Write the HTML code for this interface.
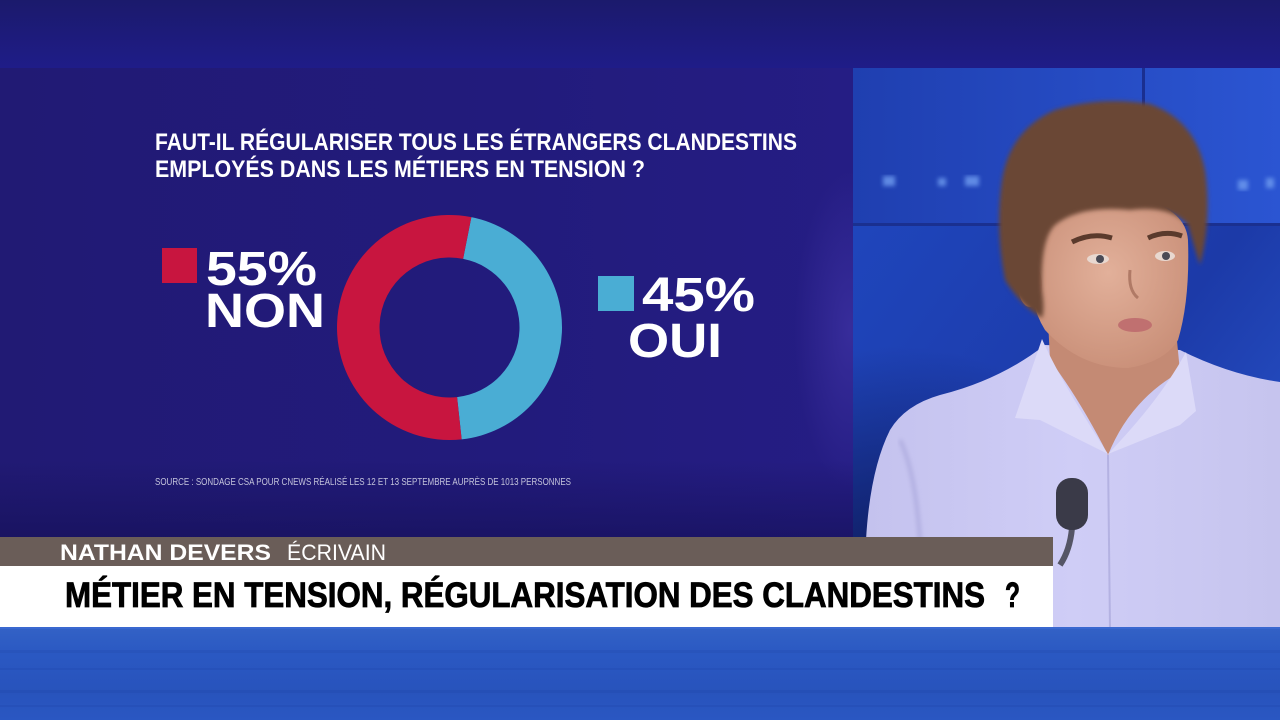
<!DOCTYPE html>
<html><head><meta charset="utf-8"><style>
html,body{margin:0;padding:0;background:#1e1b7a;}
svg{display:block;}
text{font-family:"Liberation Sans",sans-serif;}
</style></head><body>
<svg width="1280" height="720" viewBox="0 0 1280 720" xmlns="http://www.w3.org/2000/svg">
<defs>
<linearGradient id="topband" x1="0" y1="0" x2="0" y2="1">
<stop offset="0" stop-color="#1b1a6c"/><stop offset="1" stop-color="#1f1c88"/>
</linearGradient>
<linearGradient id="panel" x1="0" y1="0" x2="1" y2="0">
<stop offset="0" stop-color="#211a74"/><stop offset="0.6" stop-color="#221b7c"/><stop offset="1" stop-color="#251d84"/>
</linearGradient>
<radialGradient id="glow" cx="0.5" cy="0.5" r="0.5">
<stop offset="0" stop-color="#3f33a4" stop-opacity="0.7"/><stop offset="1" stop-color="#3f33a4" stop-opacity="0"/>
</radialGradient>
<linearGradient id="panelbot" x1="0" y1="0" x2="0" y2="1">
<stop offset="0" stop-color="#140f55" stop-opacity="0"/><stop offset="1" stop-color="#140f55" stop-opacity="0.6"/>
</linearGradient>
<linearGradient id="bottom" x1="0" y1="0" x2="0" y2="1">
<stop offset="0" stop-color="#3362c6"/><stop offset="0.3" stop-color="#2a58c2"/><stop offset="0.7" stop-color="#2853bc"/><stop offset="1" stop-color="#2a57c2"/>
</linearGradient>
<linearGradient id="studioTop" x1="0" y1="0" x2="1" y2="0">
<stop offset="0" stop-color="#1f3fb0"/><stop offset="1" stop-color="#2b55d2"/>
</linearGradient>
<linearGradient id="studioLow" x1="0" y1="0" x2="1" y2="1">
<stop offset="0" stop-color="#2049c2"/><stop offset="0.6" stop-color="#1c3aa8"/><stop offset="1" stop-color="#2a58d0"/>
</linearGradient>
<radialGradient id="dark" cx="0.1" cy="0.9" r="0.6">
<stop offset="0" stop-color="#0d1a5a"/><stop offset="1" stop-color="#0d1a5a" stop-opacity="0"/>
</radialGradient>
<linearGradient id="shirt" x1="0" y1="0" x2="1" y2="0">
<stop offset="0" stop-color="#c4c2ee"/><stop offset="0.5" stop-color="#cfcdf6"/><stop offset="1" stop-color="#c6c4ee"/>
</linearGradient>
<radialGradient id="face" cx="0.5" cy="0.45" r="0.6">
<stop offset="0" stop-color="#e2b09a"/><stop offset="1" stop-color="#c98f78"/>
</radialGradient>
<clipPath id="panelclip"><rect x="0" y="68" width="853" height="469"/></clipPath>
<filter id="blur2"><feGaussianBlur stdDeviation="2"/></filter>
<filter id="blur4"><feGaussianBlur stdDeviation="4"/></filter>
</defs>

<rect x="0" y="0" width="1280" height="68" fill="url(#topband)"/>

<rect x="853" y="68" width="427" height="560" fill="url(#studioLow)"/>
<rect x="853" y="68" width="427" height="157" fill="url(#studioTop)"/>
<rect x="853" y="225" width="427" height="403" fill="url(#dark)"/>
<rect x="1142" y="68" width="3" height="157" fill="#1a2f90"/>
<rect x="853" y="223" width="427" height="3" fill="#1a3090"/>
<g fill="#6f9cf0" opacity="0.8" filter="url(#blur2)">
<rect x="883" y="176" width="12" height="10"/><rect x="938" y="178" width="8" height="8"/>
<rect x="965" y="176" width="14" height="10"/><rect x="1238" y="180" width="10" height="10"/>
<rect x="1266" y="178" width="8" height="10"/>
</g>

<g>
<path d="M865,628 L866,540 Q870,470 890,430 Q905,405 940,395 Q1000,380 1045,345 L1180,350 Q1230,375 1280,382 L1280,628 Z" fill="url(#shirt)"/>
<path d="M900,440 Q915,470 920,540 L925,628" stroke="#b0aee0" stroke-width="4" fill="none" filter="url(#blur2)"/>
<path d="M1108,455 L1110,628" stroke="#b4b2e2" stroke-width="2" fill="none"/>
<path d="M1048,320 L1175,320 L1180,372 Q1130,400 1108,455 Q1080,400 1050,360 Z" fill="#c48a74"/>
<path d="M1042,339 Q1060,380 1108,454 L1040,420 L1015,418 Z" fill="#dcdaf8"/>
<path d="M1186,352 Q1160,400 1108,454 L1180,425 L1196,411 Z" fill="#dcdaf8"/>
<path d="M1028,240 Q1026,300 1045,330 Q1080,368 1128,368 Q1165,362 1178,340 Q1190,300 1188,240 Q1185,200 1110,195 Q1035,200 1028,240 Z" fill="url(#face)"/>
<ellipse cx="1030" cy="285" rx="12" ry="22" fill="#c48670"/>
<path d="M1005,280 Q995,230 1002,180 Q1010,130 1055,110 Q1100,96 1150,104 Q1195,120 1205,170 Q1212,220 1200,265 Q1192,240 1188,225 Q1170,205 1130,210 Q1080,205 1055,225 Q1040,240 1042,290 Q1045,310 1042,318 Q1020,305 1005,280 Z" fill="#6a4634" filter="url(#blur2)"/>
<path d="M1072,242 Q1092,232 1112,238" stroke="#5a3a2c" stroke-width="5" fill="none"/>
<path d="M1148,238 Q1165,230 1182,236" stroke="#5a3a2c" stroke-width="5" fill="none"/>
<ellipse cx="1098" cy="259" rx="11" ry="5" fill="#e8d8d0"/><circle cx="1100" cy="259" r="4" fill="#4a4a55"/>
<ellipse cx="1165" cy="256" rx="10" ry="5" fill="#e8d8d0"/><circle cx="1166" cy="256" r="4" fill="#4a4a55"/>
<path d="M1130,270 Q1128,290 1138,298" stroke="#b07a66" stroke-width="3" fill="none"/>
<ellipse cx="1135" cy="325" rx="17" ry="7" fill="#c07070"/>
<path d="M1072,528 Q1070,550 1060,565" stroke="#555566" stroke-width="6" fill="none"/>
<rect x="1056" y="478" width="32" height="52" rx="15" fill="#3a3a48"/>
</g>

<rect x="0" y="68" width="853" height="469" fill="url(#panel)"/>
<g clip-path="url(#panelclip)">
<ellipse cx="850" cy="330" rx="55" ry="160" fill="url(#glow)"/>
<rect x="0" y="460" width="853" height="77" fill="url(#panelbot)"/>
</g>

<text x="155" y="150" font-size="24" font-weight="bold" fill="#ffffff" textLength="642" lengthAdjust="spacingAndGlyphs">FAUT-IL RÉGULARISER TOUS LES ÉTRANGERS CLANDESTINS</text>
<text x="155" y="177" font-size="24" font-weight="bold" fill="#ffffff" textLength="490" lengthAdjust="spacingAndGlyphs">EMPLOYÉS DANS LES MÉTIERS EN TENSION ?</text>

<g transform="translate(449.5,327.5)">
<path d="M21.86,-110.36 A112.5,112.5 0 0 1 12.16,111.84 L7.57,69.59 A70,70 0 0 0 13.6,-68.67 Z" fill="#4aadd4"/>
<path d="M12.16,111.84 A112.5,112.5 0 1 1 21.86,-110.36 L13.6,-68.67 A70,70 0 1 0 7.57,69.59 Z" fill="#c8153f"/>
</g>

<rect x="162" y="248" width="35" height="35" fill="#c8153f"/>
<text x="206" y="285" font-size="48" font-weight="bold" fill="#ffffff" textLength="111" lengthAdjust="spacingAndGlyphs">55%</text>
<text x="205" y="327" font-size="48" font-weight="bold" fill="#ffffff" textLength="120" lengthAdjust="spacingAndGlyphs">NON</text>
<rect x="598" y="276" width="36" height="35" fill="#4aadd4"/>
<text x="642" y="311" font-size="48" font-weight="bold" fill="#ffffff" textLength="113" lengthAdjust="spacingAndGlyphs">45%</text>
<text x="628" y="357" font-size="48" font-weight="bold" fill="#ffffff" textLength="94" lengthAdjust="spacingAndGlyphs">OUI</text>

<text x="155" y="485" font-size="10" fill="#c4c4dc" textLength="416" lengthAdjust="spacingAndGlyphs">SOURCE : SONDAGE CSA POUR CNEWS RÉALISÉ LES 12 ET 13 SEPTEMBRE AUPRÈS DE 1013 PERSONNES</text>

<rect x="0" y="537" width="1053" height="29" fill="#6a5d58"/>
<text x="60" y="560" font-size="22" font-weight="bold" fill="#ffffff" textLength="211" lengthAdjust="spacingAndGlyphs">NATHAN DEVERS</text>
<text x="287" y="560" font-size="22" fill="#ffffff" textLength="99" lengthAdjust="spacingAndGlyphs">ÉCRIVAIN</text>
<rect x="0" y="566" width="1053" height="61" fill="#ffffff"/>
<text x="65" y="607" font-size="35" font-weight="bold" fill="#000000" stroke="#000000" stroke-width="0.8" textLength="920" lengthAdjust="spacingAndGlyphs">MÉTIER EN TENSION, RÉGULARISATION DES CLANDESTINS</text>
<text x="1005" y="607" font-size="35" font-weight="bold" fill="#000000" stroke="#000000" stroke-width="0.8" textLength="15" lengthAdjust="spacingAndGlyphs">?</text>

<rect x="0" y="627" width="1280" height="93" fill="url(#bottom)"/>
<rect x="0" y="627" width="1280" height="2" fill="#3a68d0"/>
<g opacity="0.15" fill="#1a3a9a">
<rect x="0" y="650" width="1280" height="3"/><rect x="0" y="668" width="1280" height="2"/>
<rect x="0" y="690" width="1280" height="3"/><rect x="0" y="705" width="1280" height="2"/>
</g>
</svg>
</body></html>
